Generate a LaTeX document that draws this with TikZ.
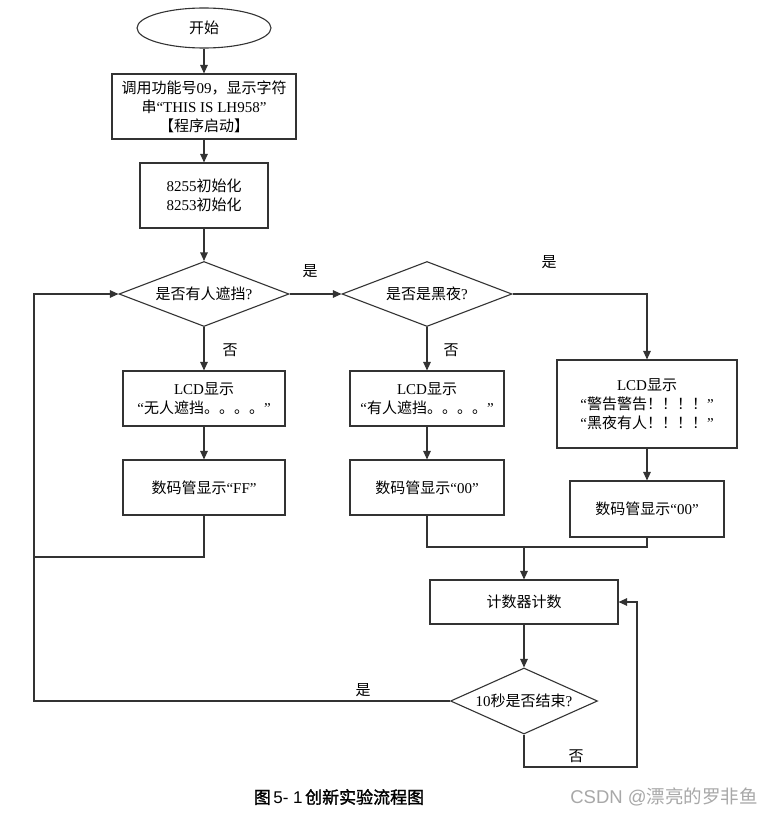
\documentclass[tikz,border=0pt]{standalone}
\usepackage{fontspec}
\setmainfont{Liberation Serif}
\setsansfont{Liberation Sans}
\newfontfamily\cjk{Noto Sans CJK SC}
\newfontfamily\cjkb[FakeBold=1.5]{Noto Sans CJK SC}
\usetikzlibrary{shapes.geometric,arrows.meta}
\definecolor{lc}{HTML}{333333}
\definecolor{wm}{HTML}{A8A8A8}
\begin{document}
\begin{tikzpicture}[x=1pt,y=-1pt,
  every node/.style={font=\fontsize{15}{19}\selectfont, text=black},
  box/.style={draw=lc, line width=1.1pt, rectangle, align=center, inner sep=0pt},
  dia/.style={draw=lc, line width=1.1pt, diamond, aspect=2.6, inner sep=0pt, align=center},
  term/.style={draw=lc, line width=1.1pt, ellipse, inner sep=0pt},
  arr/.style={draw=lc, line width=1.1pt, -{Triangle[length=8.5pt,width=7.5pt]}},
  conn/.style={draw=lc, line width=1.1pt},
  lab/.style={font=\cjk\fontsize{15}{17}\selectfont}]
\useasboundingbox (0,0) rectangle (777,816);
\fill[white] (0,0) rectangle (777,816);

\node[term, minimum width=134pt, minimum height=40pt] (start) at (204,28) {\cjk 开始};
\node[box, minimum width=184pt, minimum height=65pt] (b1) at (204,106.5)
  {{\cjk 调用功能号}09{\cjk ，显示字符}\\{\cjk 串}“THIS IS LH958”\\{\cjk 【程序启动】}};
\node[box, minimum width=128pt, minimum height=65pt] (b2) at (204,195.5)
  {8255{\cjk 初始化}\\8253{\cjk 初始化}};
\node[dia, minimum width=170pt, minimum height=65pt] (d1) at (204,294) {{\cjk 是否有人遮挡}?};
\node[dia, minimum width=170pt, minimum height=65pt] (d2) at (427,294) {{\cjk 是否是黑夜}?};
\node[box, minimum width=162pt, minimum height=55pt] (lcd1) at (204,398.5)
  {LCD{\cjk 显示}\\“{\cjk 无人遮挡。。。。}”};
\node[box, minimum width=162pt, minimum height=55pt] (ff) at (204,487.5)
  {{\cjk 数码管显示}“FF”};
\node[box, minimum width=154pt, minimum height=55pt] (lcd2) at (427,398.5)
  {LCD{\cjk 显示}\\“{\cjk 有人遮挡。。。。}”};
\node[box, minimum width=154pt, minimum height=55pt] (m2) at (427,487.5)
  {{\cjk 数码管显示}“00”};
\node[box, minimum width=180pt, minimum height=88pt] (lcd3) at (647,404)
  {LCD{\cjk 显示}\\“{\cjk 警告警告！！！！}”\\“{\cjk 黑夜有人！！！！}”};
\node[box, minimum width=154pt, minimum height=56pt] (m3) at (647,509)
  {{\cjk 数码管显示}“00”};
\node[box, minimum width=188pt, minimum height=44pt] (cnt) at (524,602) {\cjk 计数器计数};
\node[dia, aspect=2.23, minimum width=147pt, minimum height=66pt] (d3) at (524,701)
  {10{\cjk 秒是否结束}?};

\coordinate (lfa) at (34,557);
\coordinate (lfb) at (34,294);
\coordinate (jn) at (524,547);
\coordinate (rl) at (637,767);

\draw[arr] (start) -- (b1);
\draw[arr] (b1) -- (b2);
\draw[arr] (b2) -- (d1);
\draw[arr] (d1.east) -- (d2.west);
\draw[arr] (d2.east) -| (lcd3.north);
\draw[arr] (d1.south) -- (lcd1.north);
\draw[arr] (d2.south) -- (lcd2.north);
\draw[arr] (lcd1) -- (ff);
\draw[arr] (lcd2) -- (m2);
\draw[arr] (lcd3) -- (m3);
\draw[conn] (ff.south) |- (lfa);
\draw[arr] (lfa) -- (lfb) -- (d1.west);
\draw[conn] (m2.south) |- (jn);
\draw[conn] (m3.south) |- (jn);
\draw[arr] (jn) -- (cnt.north);
\draw[arr] (cnt) -- (d3);
\draw[conn] (d3.west) -| (lfa);
\draw[arr] (d3.south) |- (rl) |- (cnt.east);

\node[lab] (y1) at (310,271) {是};
\node[lab] (y2) at (549,262) {是};
\node[lab] (n1) at (230,350) {否};
\node[lab] (n2) at (451,350) {否};
\node[lab] (y3) at (363,690) {是};
\node[lab] (n3) at (576,756) {否};

\node (cap) at (339,797) {{\cjkb\fontsize{17}{19}\selectfont 图}\,{\sffamily\fontsize{17}{19}\selectfont 5- 1}\,{\cjkb\fontsize{17}{19}\selectfont 创新实验流程图}};
\node[text=wm] (wmk) at (664,797) {{\sffamily\fontsize{18.5}{20}\selectfont CSDN @}{\cjk\fontsize{18.5}{20}\selectfont 漂亮的罗非鱼}};
\end{tikzpicture}
\end{document}
